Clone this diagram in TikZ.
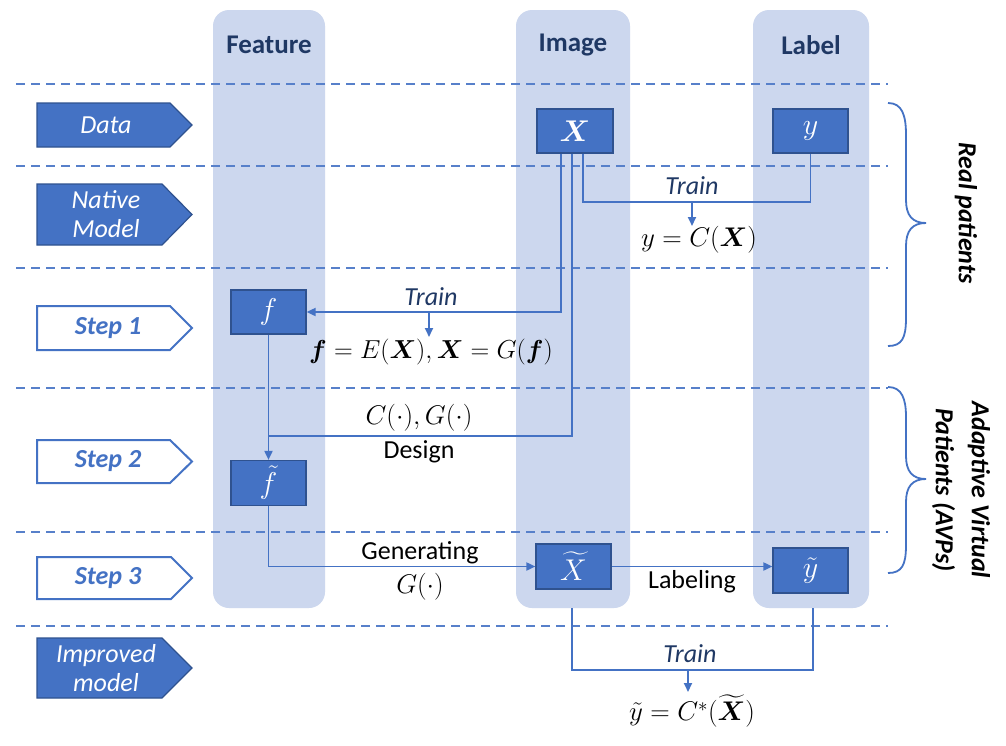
\RequirePackage{fix-cm}
\documentclass[tikz,border=0pt]{standalone}
\usepackage{amsmath}
\usepackage{fontspec}
\setmainfont{Carlito}
\usetikzlibrary{arrows.meta}
\definecolor{mblue}{HTML}{4472C4}
\definecolor{mborder}{HTML}{2F528F}
\definecolor{bandc}{HTML}{CCD7EE}
\definecolor{dblue}{HTML}{1F3864}
\newcommand\mytag[4]{\draw[#1] (37,#2) -- (#4,#2) -- (192,{(#2+#3)/2}) -- (#4,#3) -- (37,#3) -- cycle;}
\begin{document}
\begin{tikzpicture}[x=1pt,y=-1pt,
  every node/.style={font=\fontsize{26}{30}\selectfont, inner sep=0pt},
  bandbox/.style={fill=bandc, rounded corners=16pt},
  sep/.style={draw=mblue!90, line width=2pt, dash pattern=on 9pt off 6pt},
  filltag/.style={fill=mblue, draw=mborder, line width=1.2pt},
  opentag/.style={fill=white, draw=mblue, line width=2pt},
  tagw/.style={text=white, font=\fontsize{26}{29}\selectfont\itshape, align=center},
  tagb/.style={text=mblue, font=\fontsize{26}{30}\selectfont\bfseries\itshape},
  head/.style={text=dblue, font=\fontsize{27}{30}\selectfont\bfseries},
  box/.style={fill=mblue, draw=mborder, line width=1.2pt, minimum width=75pt, minimum height=44pt, text=white, font=\fontsize{30}{34}\selectfont},
  conn/.style={draw=mblue, line width=1.8pt},
  arr/.style={conn, -{Triangle[length=9pt,width=8pt]}},
  trainlbl/.style={text=dblue, font=\fontsize{26}{30}\selectfont\itshape},
  lbl/.style={text=black},
  eq/.style={text=black, font=\fontsize{27}{32}\selectfont},
  brace/.style={draw=mblue, line width=1.8pt},
  side/.style={font=\fontsize{26}{36}\selectfont\bfseries\itshape, rotate=-90, align=center}
]
\useasboundingbox[fill=white] (0,0) rectangle (1006,745);

% bands
\fill[bandbox] (213,10) rectangle (325,608);
\fill[bandbox] (516,10) rectangle (630,608);
\fill[bandbox] (753,10) rectangle (869,608);

% headers
\node[head] (hF) at (269,45) {Feature};
\node[head] (hI) at (573,45) {Image};
\node[head] (hL) at (811,45) {Label};

% separators
\foreach \yy in {84,166,268,388,532,626}
  \draw[sep] (16,\yy) -- (888,\yy);

% tags
\mytag{filltag}{103}{147}{170}
\node[tagw] (tData) at (106,125) {Data};
\mytag{filltag}{184}{245}{162}
\node[tagw] (tNative) at (106,214.5) {Native\\Model};
\mytag{opentag}{306}{350}{170}
\node[tagb] (tS1) at (108,328) {Step 1};
\mytag{opentag}{440}{483}{170}
\node[tagb] (tS2) at (108,461.5) {Step 2};
\mytag{opentag}{557}{599}{171}
\node[tagb] (tS3) at (108,578) {Step 3};
\mytag{filltag}{638}{698}{162}
\node[tagw] (tImp) at (106,668) {Improved\\model};

% boxes
\node[box, minimum width=76pt] (X) at (575,131) {$\boldsymbol{X}$};
\node[box] (yb) at (810.5,131) {$y$};
\node[box] (f) at (268.5,312) {$f$};
\node[box, minimum height=45pt] (ft) at (268.5,483) {$\tilde{f}$};
\node[box, minimum height=45pt] (Xt) at (573.5,566.5) {$\widetilde{X}$};
\node[box, minimum height=45pt] (yt) at (810.5,570.5) {$\tilde{y}$};

% native model training
\draw[conn] (X.south -| 583,0) |- (yb.south |- 0,202) -- (yb.south);
\coordinate (tA) at (692,202);
\coordinate (tAe) at (692,226);
\draw[arr] (tA) -- (tAe);
\node[trainlbl] (trA) at (692,186) {Train};
\node[eq] (eqA) at (699,240) {$y = C(\boldsymbol{X})$};

% step 1
\draw[arr] (X.south -| 561,0) |- (f.east);
\coordinate (tB) at (429,312);
\coordinate (tBe) at (429,337);
\draw[arr] (tB) -- (tBe);
\node[trainlbl] (trB) at (431,297) {Train};
\node[lbl] (eqB) at (431,352) {$\boldsymbol{f} = E(\boldsymbol{X}), \boldsymbol{X} = G(\boldsymbol{f})$};

% step 2
\draw[arr] (f.south) -- (ft.north);
\coordinate (jD) at (268.5,436);
\draw[conn] (X.south -| 572,0) |- (jD);
\node[eq] (eqD) at (419,418) {$C(\cdot), G(\cdot)$};
\node[lbl] (lD) at (419,452) {Design};

% step 3
\draw[arr] (ft.south) |- (Xt.west);
\node[lbl] (lG) at (420,553) {Generating};
\node[eq] (eqG) at (420,587) {$G(\cdot)$};
\draw[arr] (Xt.east) -- (Xt.east -| yt.west);
\node[lbl] (lL) at (692,582) {Labeling};

% improved model
\coordinate (bX) at (572,608);
\coordinate (bY) at (813,608);
\draw[conn] (bX) |- (bY |- 0,670) -- (bY);
\coordinate (tC) at (688,670);
\coordinate (tCe) at (688,692);
\draw[arr] (tC) -- (tCe);
\node[trainlbl] (trC) at (690,654) {Train};
\node[eq] (eqC) at (692,711) {$\tilde{y} = C^{*}(\widetilde{\boldsymbol{X}})$};

% braces
\draw[brace] (888,103) .. controls (902,103) and (906,115) .. (906,135) -- (906,200)
  .. controls (906,215) and (912,223) .. (926,223)
  .. controls (912,223) and (906,231) .. (906,246) -- (906,318)
  .. controls (906,338) and (902,346) .. (888,346);
\draw[brace] (888,387) .. controls (902,387) and (906,399) .. (906,417) -- (906,456)
  .. controls (906,471) and (912,479) .. (926,479)
  .. controls (912,479) and (906,487) .. (906,502) -- (906,545)
  .. controls (906,565) and (902,573) .. (888,573);
\node[side] (rp) at (966,213) {Real patients};
\node[side] (avp) at (961,490) {Adaptive Virtual\\Patients (AVPs)};
\end{tikzpicture}
\end{document}
